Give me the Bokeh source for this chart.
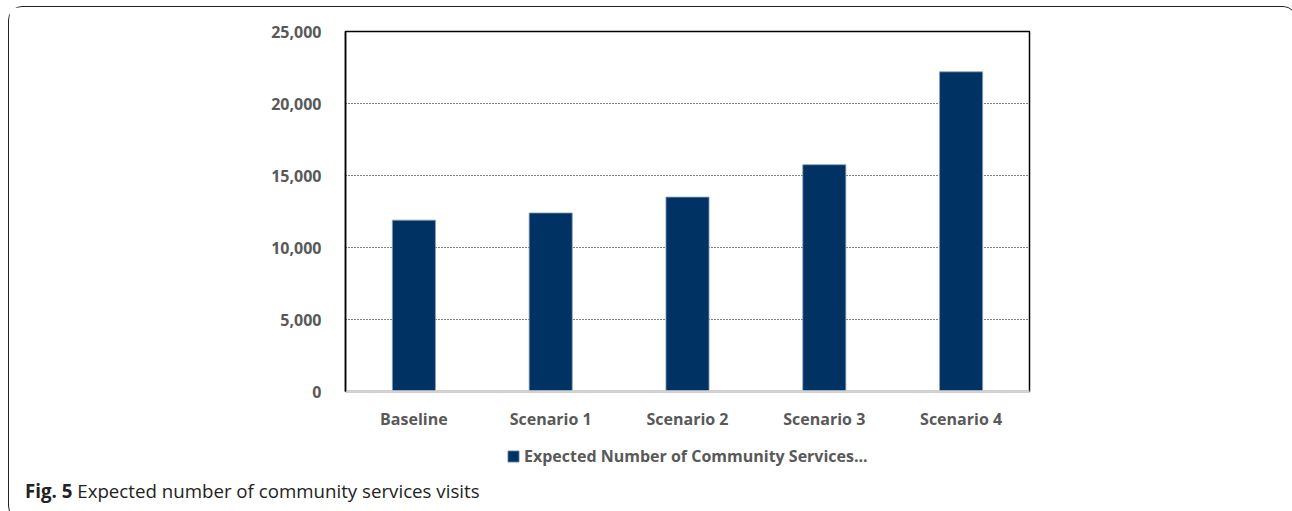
from bokeh.plotting import figure
from bokeh.layouts import column
from bokeh.models import (FactorRange, Range1d, FixedTicker, NumeralTickFormatter,
                          Legend, LegendItem, ColumnDataSource, Div)
from bokeh.embed import file_html
from bokeh.resources import INLINE

categories = ["Baseline", "Scenario 1", "Scenario 2", "Scenario 3", "Scenario 4"]
visits = [11900, 12400, 13500, 15750, 22200]
y_ticks = [0, 5000, 10000, 15000, 20000, 25000]
series_name = "Expected Number of Community Services..."
caption_bold = "Fig. 5"
caption_text = "Expected number of community services visits"

FONT = "Open Sans"
GRAY = "#595959"
BAR = "#003264"
BAR_EDGE = "#8aa0b8"

W = 1277
H1, H2, H3 = 430, 40, 32

src = ColumnDataSource(dict(cat=categories, val=visits))

p = figure(width=W, height=H1, output_backend="svg", toolbar_location=None,
           x_range=FactorRange(factors=categories), y_range=Range1d(0, 25000),
           min_border_left=336, min_border_right=257, min_border_top=24,
           min_border_bottom=H1 - 384)

bars = p.vbar(x="cat", top="val", width=0.315, source=src, fill_color=BAR,
              line_color=BAR_EDGE, line_width=0.8)

p.outline_line_color = "black"
p.outline_line_width = 1.5
p.xgrid.visible = False
p.ygrid.ticker = FixedTicker(ticks=y_ticks[1:-1])
p.ygrid.grid_line_color = "#000000"
p.ygrid.grid_line_dash = "1 2"
p.ygrid.grid_line_width = 1

ya = p.yaxis[0]
ya.ticker = FixedTicker(ticks=y_ticks)
ya.formatter = NumeralTickFormatter(format="0,0")
ya.axis_line_color = "black"
ya.axis_line_width = 1.5
ya.major_tick_line_color = None
ya.minor_tick_line_color = None
ya.major_label_standoff = 18
ya.major_label_text_font = FONT
ya.major_label_text_font_style = "bold"
ya.major_label_text_font_size = "16px"
ya.major_label_text_color = GRAY

xa = p.xaxis[0]
xa.axis_line_color = "#d4d4d4"
xa.axis_line_width = 2.5
xa.major_tick_line_color = None
xa.minor_tick_line_color = None
xa.major_label_standoff = 10
xa.major_label_text_font = FONT
xa.major_label_text_font_style = "bold"
xa.major_label_text_font_size = "16px"
xa.major_label_text_color = GRAY

# legend strip (same series, its bars fall below this strip's visible range)
q = figure(width=W, height=H2, output_backend="svg", toolbar_location=None,
           x_range=FactorRange(factors=categories), y_range=Range1d(30000, 40000),
           x_axis_type=None, y_axis_type=None, min_border=0)
q.outline_line_color = None
q.grid.visible = False
key = q.vbar(x="cat", top="val", width=0.315, source=src, fill_color=BAR,
             line_color=BAR_EDGE, line_width=0.8)

legend = Legend(items=[LegendItem(label=series_name, renderers=[key], index=0)],
                location=(161, 10.5), padding=0, margin=0, spacing=0,
                border_line_color=None, background_fill_alpha=0,
                glyph_width=14, glyph_height=14, label_standoff=4,
                label_height=20, label_text_font=FONT,
                label_text_font_style="bold", label_text_font_size="16px",
                label_text_color=GRAY)
q.add_layout(legend, "center")

cap = Div(text=f"<b>{caption_bold}</b> {caption_text}", width=W, height=H3,
          styles={"font-family": "'Open Sans'", "font-size": "18.7px",
                  "color": "#222222", "padding": "1px 0 0 11px",
                  "line-height": "16px", "box-sizing": "border-box",
                  "white-space": "nowrap"})

layout = column(p, q, cap, spacing=0)
layout.styles = {"border": "1.5px solid #222222", "border-radius": "14px",
                 "margin": "6px 0 0 8px"}

open("out.html", "w").write(file_html(layout, INLINE))
